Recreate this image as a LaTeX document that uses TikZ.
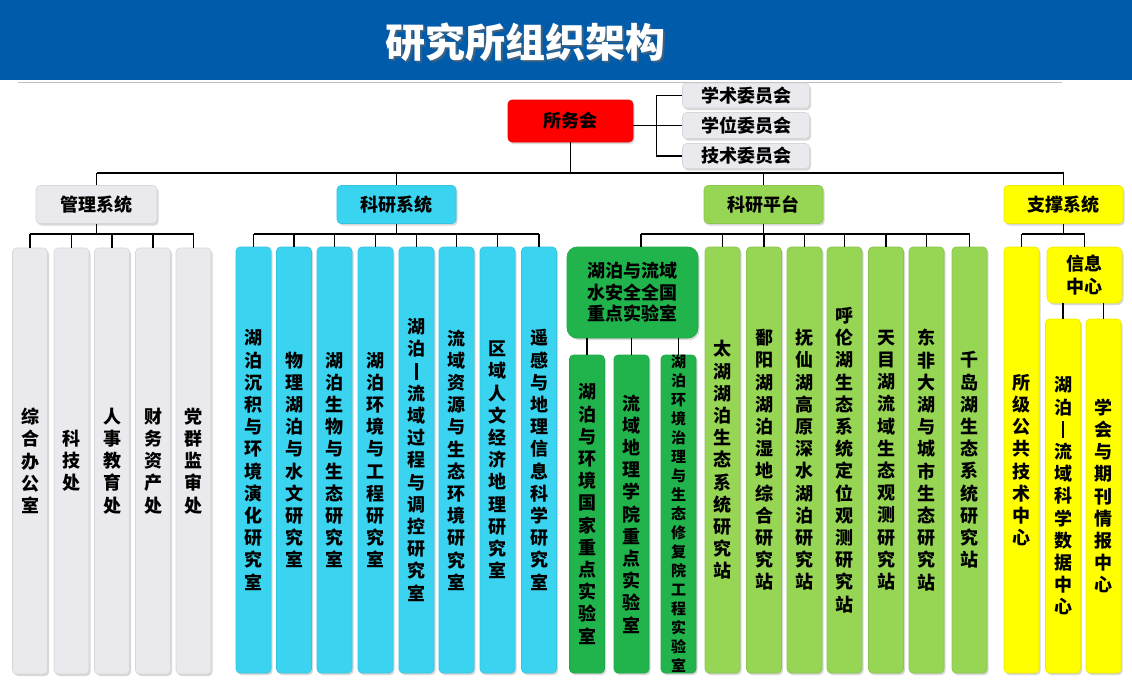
\documentclass[tikz,border=0pt]{standalone}
\usepackage{fontspec}
\setmainfont{Noto Sans CJK SC}
\usetikzlibrary{shadows}
\definecolor{hdr}{RGB}{0,91,170}
\definecolor{gry}{RGB}{234,234,238}
\definecolor{cyn}{RGB}{59,212,240}
\definecolor{lgr}{RGB}{150,214,84}
\definecolor{dgr}{RGB}{34,180,76}
\definecolor{ylw}{RGB}{255,255,0}
\definecolor{redb}{RGB}{255,0,0}
\newcommand\myvbar{\rule[-2pt]{2.2pt}{17pt}}
\tikzset{
  box/.style={rounded corners=4pt, inner sep=0pt, align=center,
    font=\bfseries\fontsize{18}{22.2}\selectfont,
    drop shadow={shadow xshift=1.5pt,shadow yshift=-2pt,opacity=.3}},
  colbox/.style={box, minimum width=35pt},
  shadeof/.style={fill=#1, draw=#1!92!black, line width=0.6pt},
  lnk/.style={draw=black, line width=1.1pt},
}
\begin{document}
\begin{tikzpicture}[x=1pt,y=-1pt]
\useasboundingbox (0,0) rectangle (1132,680);
\fill[white] (0,0) rectangle (1132,680);
\fill[hdr] (0,0) rectangle (1132,80);
\draw[black!25, line width=1pt] (18,82) -- (1062,82);
\node[text=black!60, opacity=.6, font=\bfseries\fontsize{40}{42}\selectfont] (titleshadow) at (527,44) {研究所组织架构};
\node[text=white, font=\bfseries\fontsize{40}{42}\selectfont] (title) at (525,42) {研究所组织架构};

% top
\node[box, shadeof=redb, minimum width=125pt, minimum height=42pt] (swh) at (570.5,121) {所务会};
\node[box, shadeof=gry, minimum width=127pt, minimum height=25pt] (c1) at (746,95.5) {学术委员会};
\node[box, shadeof=gry, minimum width=127pt, minimum height=26pt] (c2) at (746,125.5) {学位委员会};
\node[box, shadeof=gry, minimum width=127pt, minimum height=25pt] (c3) at (746,156) {技术委员会};
\draw[lnk] (swh.east |- c2.west) -- (c2.west);
\draw[lnk] (c1.west) -- ++(-26,0) |- (c3.west);

% systems
\node[box, shadeof=gry, minimum width=121pt, minimum height=38pt] (s1) at (96.5,204.5) {管理系统};
\node[box, shadeof=cyn, minimum width=119pt, minimum height=38pt] (s2) at (396.5,204.5) {科研系统};
\node[box, shadeof=lgr, minimum width=119pt, minimum height=38pt] (s3) at (763.5,204.5) {科研平台};
\node[box, shadeof=ylw, minimum width=119pt, minimum height=38pt] (s4) at (1063.5,204.5) {支撑系统};
\draw[lnk] (swh.south) -- (swh.south |- 0,173);
\draw[lnk] (s1.north |- 0,173) -- (s4.north |- 0,173);
\foreach \s in {s1,s2,s3,s4} \draw[lnk] (\s.north) -- (\s.north |- 0,173);

% management columns
\node[colbox, shadeof=gry, minimum height=426pt] (g1) at (30,461) {综\\合\\办\\公\\室};
\node[colbox, shadeof=gry, minimum height=426pt] (g2) at (71.5,461) {科\\技\\处};
\node[colbox, shadeof=gry, minimum height=426pt] (g3) at (112,461) {人\\事\\教\\育\\处};
\node[colbox, shadeof=gry, minimum height=426pt] (g4) at (153,461) {财\\务\\资\\产\\处};
\node[colbox, shadeof=gry, minimum height=426pt] (g5) at (193.5,461) {党\\群\\监\\审\\处};
\draw[lnk] (s1.south) -- (s1.south |- 0,234);
\draw[lnk] (g1.north |- 0,234) -- (g5.north |- 0,234);
\foreach \s in {g1,g2,g3,g4,g5} \draw[lnk] (\s.north) -- (\s.north |- 0,234);

% research columns
\node[colbox, shadeof=cyn, minimum height=426pt] (r1) at (253.5,460) {湖\\泊\\沉\\积\\与\\环\\境\\演\\化\\研\\究\\室};
\node[colbox, shadeof=cyn, minimum height=426pt] (r2) at (294,460) {物\\理\\湖\\泊\\与\\水\\文\\研\\究\\室};
\node[colbox, shadeof=cyn, minimum height=426pt] (r3) at (334.5,460) {湖\\泊\\生\\物\\与\\生\\态\\研\\究\\室};
\node[colbox, shadeof=cyn, minimum height=426pt] (r4) at (375.5,460) {湖\\泊\\环\\境\\与\\工\\程\\研\\究\\室};
\node[colbox, shadeof=cyn, minimum height=426pt] (r5) at (416.5,460) {湖\\泊\\\myvbar\\流\\域\\过\\程\\与\\调\\控\\研\\究\\室};
\node[colbox, shadeof=cyn, minimum height=426pt] (r6) at (456.5,460) {流\\域\\资\\源\\与\\生\\态\\环\\境\\研\\究\\室};
\node[colbox, shadeof=cyn, minimum height=426pt] (r7) at (497.5,460) {区\\域\\人\\文\\经\\济\\地\\理\\研\\究\\室};
\node[colbox, shadeof=cyn, minimum height=426pt] (r8) at (539,460) {遥\\感\\与\\地\\理\\信\\息\\科\\学\\研\\究\\室};
\draw[lnk] (s2.south) -- (s2.south |- 0,234);
\draw[lnk] (r1.north |- 0,234) -- (r8.north |- 0,234);
\foreach \s in {r1,r2,r3,r4,r5,r6,r7,r8} \draw[lnk] (\s.north) -- (\s.north |- 0,234);

% platform
\node[box, shadeof=dgr, rounded corners=10pt, minimum width=131pt, minimum height=91pt, font=\bfseries\fontsize{18}{21.5}\selectfont] (kl) at (632.5,292.5) {湖泊与流域\\水安全全国\\重点实验室};
\node[colbox, shadeof=dgr, minimum height=318pt] (d1) at (587,514) {湖\\泊\\与\\环\\境\\国\\家\\重\\点\\实\\验\\室};
\node[colbox, shadeof=dgr, minimum height=318pt] (d2) at (631.5,514) {流\\域\\地\\理\\学\\院\\重\\点\\实\\验\\室};
\node[colbox, shadeof=dgr, minimum height=318pt, font=\bfseries\fontsize{15}{19}\selectfont] (d3) at (678.5,514) {湖\\泊\\环\\境\\治\\理\\与\\生\\态\\修\\复\\院\\工\\程\\实\\验\\室};
\foreach \s in {d1,d2,d3} \draw[lnk] (\s.north) -- (\s.north |- kl.south);
\node[colbox, shadeof=lgr, minimum height=426pt] (p1) at (722.5,460) {太\\湖\\湖\\泊\\生\\态\\系\\统\\研\\究\\站};
\node[colbox, shadeof=lgr, minimum height=426pt] (p2) at (764,460) {鄱\\阳\\湖\\湖\\泊\\湿\\地\\综\\合\\研\\究\\站};
\node[colbox, shadeof=lgr, minimum height=426pt] (p3) at (804.5,460) {抚\\仙\\湖\\高\\原\\深\\水\\湖\\泊\\研\\究\\站};
\node[colbox, shadeof=lgr, minimum height=426pt] (p4) at (844.5,460) {呼\\伦\\湖\\生\\态\\系\\统\\定\\位\\观\\测\\研\\究\\站};
\node[colbox, shadeof=lgr, minimum height=426pt] (p5) at (886,460) {天\\目\\湖\\流\\域\\生\\态\\观\\测\\研\\究\\站};
\node[colbox, shadeof=lgr, minimum height=426pt] (p6) at (926.5,460) {东\\非\\大\\湖\\与\\城\\市\\生\\态\\研\\究\\站};
\node[colbox, shadeof=lgr, minimum height=426pt] (p7) at (969.5,460) {千\\岛\\湖\\生\\态\\系\\统\\研\\究\\站};
\draw[lnk] (s3.south) -- (s3.south |- 0,234);
\draw[lnk] (641,234) -- (p7.north |- 0,234);
\draw[lnk] (kl.north -| 641,0) -- (641,234);
\foreach \s in {p1,p2,p3,p4,p5,p6,p7} \draw[lnk] (\s.north) -- (\s.north |- 0,234);

% support
\node[colbox, shadeof=ylw, minimum height=426pt] (y1) at (1021.5,460) {所\\级\\公\\共\\技\\术\\中\\心};
\node[box, shadeof=ylw, rounded corners=6pt, minimum width=75pt, minimum height=56pt, font=\bfseries\fontsize{18}{23}\selectfont] (ic) at (1084.5,275) {信息\\中心};
\node[colbox, shadeof=ylw, minimum height=354pt] (y2) at (1063,496) {湖\\泊\\\myvbar\\流\\域\\科\\学\\数\\据\\中\\心};
\node[colbox, shadeof=ylw, minimum height=354pt] (y3) at (1103.5,496) {学\\会\\与\\期\\刊\\情\\报\\中\\心};
\draw[lnk] (s4.south) -- (s4.south |- 0,234);
\draw[lnk] (y1.north |- 0,234) -- (ic.north |- 0,234);
\draw[lnk] (y1.north) -- (y1.north |- 0,234);
\draw[lnk] (ic.north) -- (ic.north |- 0,234);
\foreach \s in {y2,y3} \draw[lnk] (\s.north) -- (\s.north |- ic.south);
\end{tikzpicture}
\end{document}
